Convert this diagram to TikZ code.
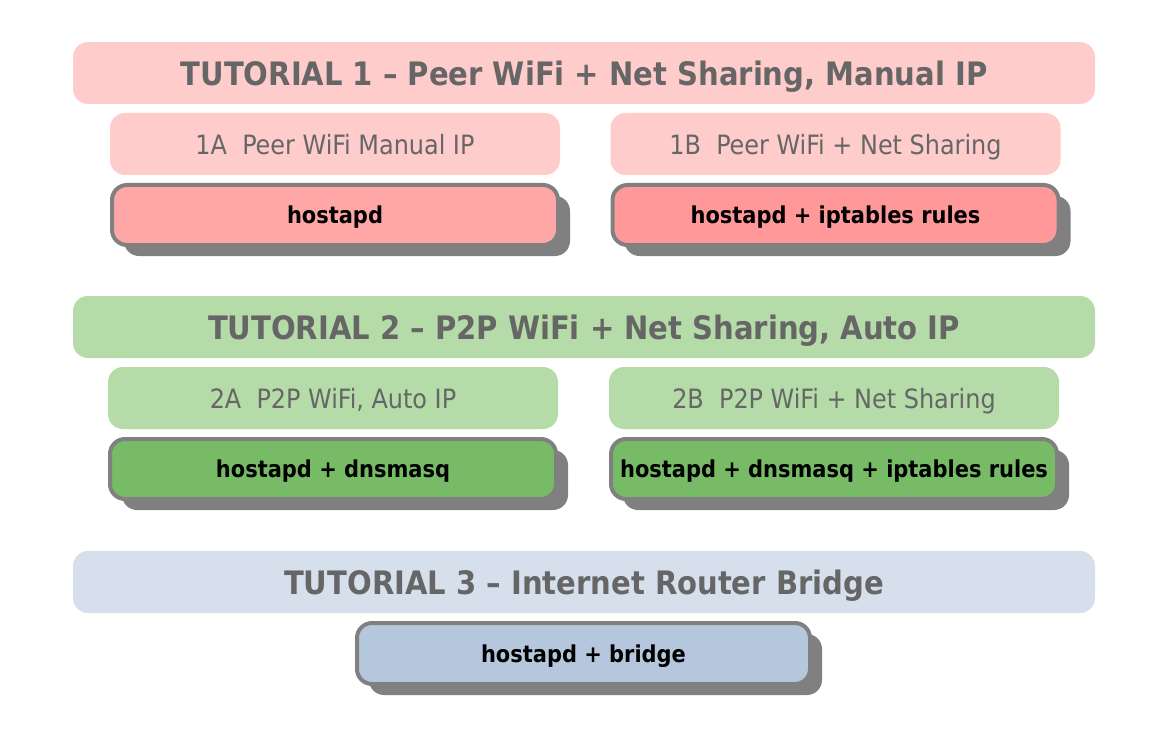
\documentclass[tikz,border=0pt]{standalone}
\usepackage{fontspec}
\setmainfont{DejaVu Sans Condensed}
\usetikzlibrary{shadows}
\definecolor{hdrred}{HTML}{FFCCCC}
\definecolor{hdrgreen}{HTML}{B5DBA9}
\definecolor{hdrblue}{HTML}{D6E0EC}
\definecolor{boxredA}{HTML}{FFA6A6}
\definecolor{boxredB}{HTML}{FF9999}
\definecolor{boxgreen}{HTML}{77BB66}
\definecolor{boxblue}{HTML}{B5C7DD}
\definecolor{txtgray}{HTML}{666666}
\definecolor{edgegray}{HTML}{808080}
\tikzset{
  hdr/.style={rectangle, rounded corners=15pt, inner sep=0pt, outer sep=0pt,
    minimum width=1022pt, minimum height=62pt, text=txtgray, text depth=0pt,
    font=\fontsize{32.3}{36}\selectfont\bfseries},
  sub/.style={rectangle, rounded corners=15pt, inner sep=0pt, outer sep=0pt,
    minimum width=450pt, minimum height=62pt, text=txtgray, text depth=0pt,
    font=\fontsize{26.6}{30}\selectfont},
  tool/.style={rectangle, rounded corners=15pt, inner sep=0pt, outer sep=0pt,
    minimum width=446pt, minimum height=60pt, draw=edgegray, line width=4pt,
    text=black, text depth=0pt, font=\fontsize{23.3}{27}\selectfont\bfseries,
    drop shadow={shadow xshift=12pt, shadow yshift=-11pt, fill=edgegray, opacity=1}}
}
\begin{document}
\begin{tikzpicture}[x=1pt,y=1pt]
\useasboundingbox (0,0) rectangle (1169,-730);
% Tutorial 1
\node[hdr, fill=hdrred] (h1) at (584,-73) {TUTORIAL 1 – Peer WiFi + Net Sharing, Manual IP};
\node[sub, fill=hdrred] (s1a) at (335,-144) {1A\ \ Peer WiFi Manual IP};
\node[sub, fill=hdrred] (s1b) at (835.5,-144) {1B\ \ Peer WiFi + Net Sharing};
\node[tool, fill=boxredA] (t1a) at (335,-215) {hostapd};
\node[tool, fill=boxredB] (t1b) at (835.5,-215) {hostapd + iptables rules};
% Tutorial 2
\node[hdr, fill=hdrgreen] (h2) at (584,-327) {TUTORIAL 2 – P2P WiFi + Net Sharing, Auto IP};
\node[sub, fill=hdrgreen] (s2a) at (333,-398) {2A\ \ P2P WiFi, Auto IP};
\node[sub, fill=hdrgreen] (s2b) at (834,-398) {2B\ \ P2P WiFi + Net Sharing};
\node[tool, fill=boxgreen] (t2a) at (333,-469) {hostapd + dnsmasq};
\node[tool, fill=boxgreen] (t2b) at (834,-469) {hostapd + dnsmasq + iptables rules};
% Tutorial 3
\node[hdr, fill=hdrblue] (h3) at (584,-582) {TUTORIAL 3 – Internet Router Bridge};
\node[tool, fill=boxblue, minimum width=453pt, minimum height=61pt] (t3) at (583.5,-653.5) {hostapd + bridge};
\end{tikzpicture}
\end{document}
